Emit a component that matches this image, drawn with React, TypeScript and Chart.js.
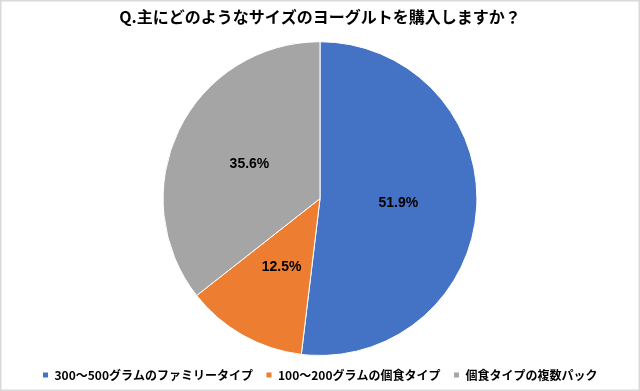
import React, { useEffect, useRef } from "react";
import { Chart, registerables } from "chart.js";

Chart.register(...registerables);

const titleText = "Q.主にどのようなサイズのヨーグルトを購入しますか？";
const categories = [
  "300〜500グラムのファミリータイプ",
  "100〜200グラムの個食タイプ",
  "個食タイプの複数パック",
];
const values = [51.9, 12.5, 35.6];
const colors = ["#4472C4", "#ED7D31", "#A5A5A5"];

const frame = {
  id: "frame",
  beforeDraw(chart: any) {
    const { ctx, width, height } = chart;
    ctx.save();
    ctx.fillStyle = "#ffffff";
    ctx.fillRect(0, 0, width, height);
    ctx.strokeStyle = "#d9d9d9";
    ctx.lineWidth = 1.5;
    ctx.strokeRect(0.75, 0.75, width - 1.5, height - 1.5);
    ctx.restore();
  },
};

const labels = {
  id: "pctLabels",
  afterDatasetsDraw(chart: any) {
    const { ctx } = chart;
    const meta = chart.getDatasetMeta(0);
    ctx.save();
    ctx.font = "bold 14px 'Liberation Sans', Arial, sans-serif";
    ctx.fillStyle = "#000000";
    ctx.textAlign = "center";
    ctx.textBaseline = "middle";
    meta.data.forEach((arc: any, i: number) => {
      const p = arc.getCenterPoint();
      ctx.fillText(values[i].toFixed(1) + "%", p.x, p.y);
    });
    ctx.restore();
  },
};

export default function App() {
  const ref = useRef<HTMLCanvasElement>(null);
  useEffect(() => {
    document.body.style.margin = "0";
    const chart = new Chart(ref.current!, {
      type: "pie",
      data: {
        labels: categories,
        datasets: [
          {
            data: values,
            backgroundColor: colors,
            borderColor: "#ffffff",
            borderWidth: 1,
          },
        ],
      },
      options: {
        responsive: false,
        animation: false,
        layout: { padding: { left: 0, right: 0, top: 0, bottom: 0 } },
        plugins: {
          title: {
            display: true,
            text: titleText,
            color: "#000000",
            font: { family: "'Noto Sans CJK JP', sans-serif", size: 16, weight: "bold" },
            padding: { top: 7, bottom: 15 },
          },
          legend: {
            position: "bottom",
            labels: {
              color: "#000000",
              font: { family: "'Noto Sans CJK JP', sans-serif", size: 12, weight: "bold" },
              boxWidth: 6,
              boxHeight: 6,
              padding: 13,
            },
          },
          tooltip: { enabled: false },
        },
      },
      plugins: [frame, labels],
    });
    return () => chart.destroy();
  }, []);
  return (
    <div style={{ position: "absolute", left: 0, top: 0, width: 640, height: 391 }}>
      <canvas ref={ref} width={640} height={391} style={{ display: "block" }} />
    </div>
  );
}
